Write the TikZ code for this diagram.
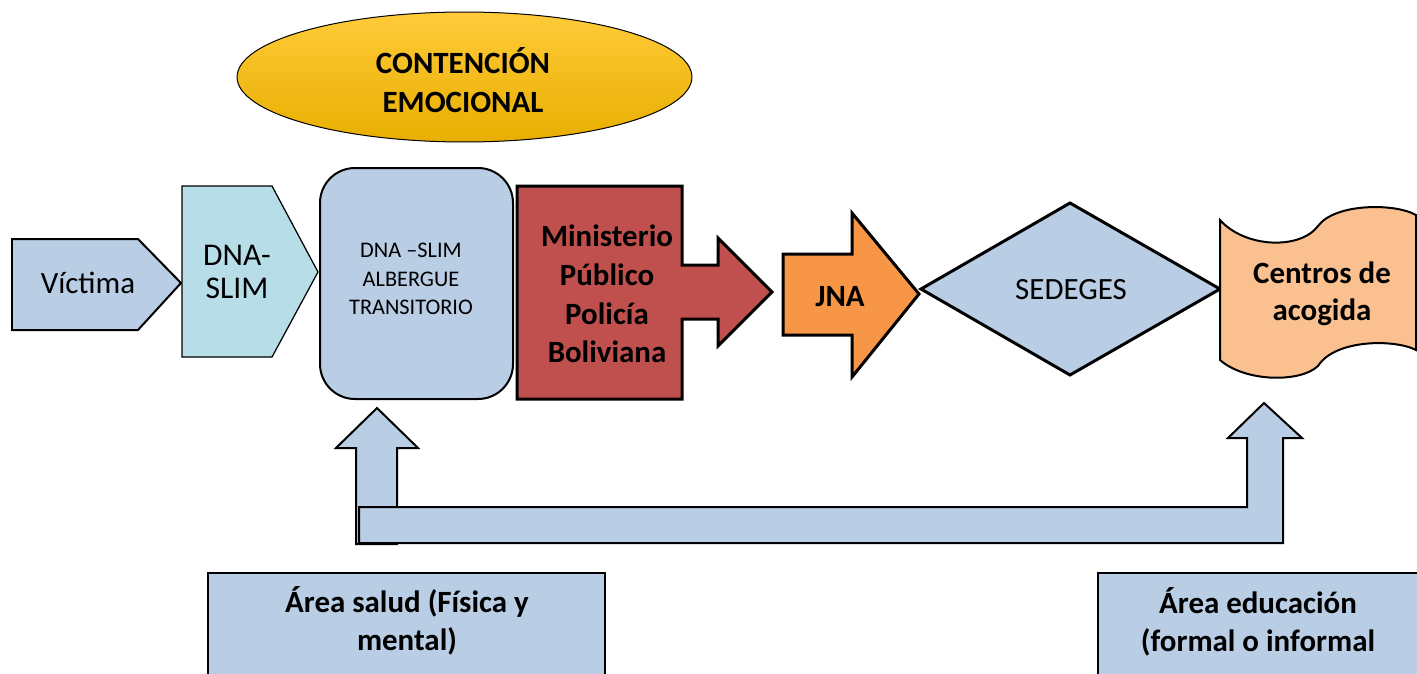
\documentclass[tikz,border=0pt]{standalone}
\usepackage{fontspec}
\setmainfont{Carlito}
\usetikzlibrary{calc}
\definecolor{paleblue}{HTML}{B9CDE5}
\definecolor{palecyan}{HTML}{B7DEE8}
\definecolor{brickred}{HTML}{C0504D}
\definecolor{juiceorange}{HTML}{F79646}
\definecolor{peach}{HTML}{FAC090}
\definecolor{goldmid}{HTML}{FFC000}
\definecolor{goldtop}{HTML}{FFCB3A}
\definecolor{goldbot}{HTML}{E8AE00}

\begin{document}
\begin{tikzpicture}[x=0.02cm, y=-0.02cm, font=\fontsize{17.6}{21.8}\selectfont]
		%%%%% START %%%%%
		\clip (0, 0) rectangle (1417, 673);
		
		\shade[top color=goldtop, middle color=goldmid, bottom color=goldbot, draw=black, line width=0.2mm] (464.5, 77) ellipse (4.55cm and 1.3cm);
		\node[inner sep=0, align=center, font=\fontsize{17.6}{21.8}\selectfont\bfseries] (contencion) at (463, 80) {CONTENCIÓN\\EMOCIONAL};
		
		\draw[line width=0.4mm, fill=paleblue] (12, 239) -- (138, 239) -- (181, 283) -- (138, 330) -- (12, 330) -- cycle;
		\node[inner sep=0] (victima) at (88, 283) {Víctima};
		
		\draw[line width=0.25mm, fill=palecyan] (182, 186) -- (272, 186) -- (318, 272) -- (272, 357) -- (182, 357) -- cycle;
		\node[inner sep=0, align=center, font=\fontsize{18}{18.7}\selectfont] (dnaslim) at (237, 272) {DNA-\\SLIM};
		
		\draw[line width=0.4mm, fill=paleblue, rounded corners=0.7cm] (320, 168) rectangle (513, 399);
		\node[inner sep=0, align=center, font=\fontsize{12.7}{16.4}\selectfont] (albergue) at (411, 279) {DNA –SLIM\\ALBERGUE\\TRANSITORIO};
		
		\draw[line width=0.6mm, fill=brickred] (517, 186) -- (682, 186) -- (682, 265) -- (718, 265) -- (718, 238) -- (772, 292) -- (718, 346) -- (718, 319) -- (682, 319) -- (682, 399) -- (517, 399) -- cycle;
		\node[inner sep=0, align=center, font=\fontsize{17.6}{22}\selectfont\bfseries] (ministerio) at (607, 294) {Ministerio\\Público\\Policía\\Boliviana};
		
		\draw[line width=0.6mm, fill=juiceorange] (783, 254) -- (852, 254) -- (852, 213) -- (919, 294) -- (852, 377) -- (852, 335) -- (783, 335) -- cycle;
		\node[inner sep=0, font=\fontsize{17.6}{21.8}\selectfont\bfseries] (jna) at (840, 297) {JNA};
		
		\draw[line width=0.6mm, fill=paleblue] (921, 289) -- (1070, 203) -- (1220, 289) -- (1070, 375) -- cycle;
		\node[inner sep=0] (sedeges) at (1071, 290) {SEDEGES};
		
		\draw[line width=0.4mm, fill=peach] (1220, 220) .. controls (1245, 248) and (1300, 250) .. (1318, 226) .. controls (1335, 203) and (1395, 203) .. (1416, 215) -- (1416, 350) .. controls (1395, 339) and (1335, 339) .. (1318, 366) .. controls (1300, 383) and (1245, 382) .. (1220, 360) -- cycle;
		\node[inner sep=0, align=center, font=\fontsize{17.6}{21}\selectfont\bfseries] (centros) at (1322, 294) {Centros de\\acogida};
		
		% flechas de abajo
		\draw[line width=0.4mm, fill=paleblue] (356, 544) -- (356, 448) -- (336, 448) -- (377, 408) -- (418, 448) -- (397, 448) -- (397, 544) -- cycle;
		\draw[line width=0.4mm, fill=paleblue] (359, 507) -- (1247, 507) -- (1247, 438) -- (1228, 438) -- (1264, 403) -- (1302, 438) -- (1283, 438) -- (1283, 543) -- (359, 543) -- cycle;
		
		\draw[line width=0.5mm, fill=paleblue] (208, 573) rectangle (605, 700);
		\node[inner sep=0, align=center, font=\fontsize{17.6}{21.8}\selectfont\bfseries] (salud) at (407, 621) {Área salud (Física y\\mental)};
		
		\draw[line width=0.5mm, fill=paleblue] (1098, 573) rectangle (1430, 700);
		\node[inner sep=0, align=center, font=\fontsize{17.6}{21.8}\selectfont\bfseries] (educacion) at (1258, 622) {Área educación\\(formal o informal};
		
		%%%%% END %%%%%
\end{tikzpicture}
\end{document}
